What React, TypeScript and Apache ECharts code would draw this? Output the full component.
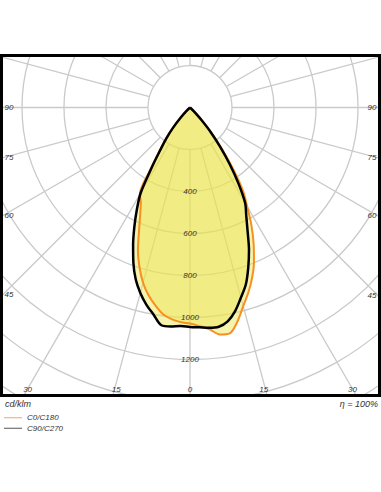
import React, { useEffect, useRef } from 'react';
import * as echarts from 'echarts';

// gamma angles (deg from nadir) shared by all half-planes
const GAMMA = [0, 2.5, 5, 7.5, 10, 12.5, 15, 17.5, 20, 22.5, 25, 27.5, 30, 32.5, 35, 37.5, 40, 42.5, 45, 47.5];
// intensities in cd/klm
const C0 = [1029, 1042, 1060, 1090, 1092, 1044, 979, 924, 864, 796, 717, 634, 544, 470, 360, 255, 165, 80, 25, 0];
const C180 = [1029, 1023, 1012, 992, 956, 915, 864, 799, 725, 634, 561, 507, 478, 355, 255, 190, 128, 66, 25, 0];
const C90 = [1045, 1048, 1053, 1053, 1034, 993, 937, 884, 811, 734, 649, 580, 525, 430, 330, 235, 155, 78, 25, 0];
const C270 = [1045, 1042, 1047, 1046, 1001, 961, 914, 859, 788, 708, 627, 548, 470, 340, 245, 185, 125, 65, 25, 0];

const RADIAL_TICKS = [400, 600, 800, 1000, 1200];
const SIDE_TICKS = [90, 75, 60, 45];
const BOTTOM_TICKS = [30, 15, 0];
const SERIES_NAMES = ['C0/C180', 'C90/C270'];
const UNIT_TEXT = 'cd/klm';
const ETA_TEXT = 'η = 100%';

const W = 381;
const H = 492;
const CX = 190;
const CY = 107.5;
const R = 420;
const RMAX = 2000;
const FRAME = { x: 1.5, y: 55.5, w: 378, h: 340 };
const GRID = '#cacaca';
const FONT = 'Liberation Sans';
const TXT = '#333';
const FILL = '#ece54e';

function halfPlanes(left: number[], right: number[]) {
  const pts: number[][] = [];
  for (let i = GAMMA.length - 1; i >= 0; i--) pts.push([left[i], GAMMA[i]]);
  for (let i = 0; i < GAMMA.length; i++) pts.push([right[i], 360 - GAMMA[i]]);
  return pts;
}

export default function App() {
  const ref = useRef<HTMLDivElement>(null);
  useEffect(() => {
    document.body.style.margin = '0';
    const chart = echarts.init(ref.current!, null, { renderer: 'svg' });
    const orange = halfPlanes(C180, C0);
    const black = halfPlanes(C270, C90);

    const fLeft = FRAME.x + 2;
    const fRight = FRAME.x + FRAME.w - 2;
    const fBottom = FRAME.y + FRAME.h - 1.5;
    const small = { fontSize: 8, fontStyle: 'italic', fontFamily: FONT, fill: TXT };

    const texts: any[] = [];
    SIDE_TICKS.forEach((g) => {
      const t = Math.tan((g * Math.PI) / 180);
      const yl = g === 90 ? CY : CY + (CX - fLeft) / t;
      const yr = g === 90 ? CY : CY + (fRight - CX) / t;
      texts.push({ type: 'text', z: 60, style: { ...small, text: String(g), x: fLeft + 1, y: yl, align: 'left', verticalAlign: 'middle' } });
      texts.push({ type: 'text', z: 60, style: { ...small, text: String(g), x: fRight - 1, y: yr, align: 'right', verticalAlign: 'middle' } });
    });
    BOTTOM_TICKS.forEach((g) => {
      const d = (fBottom - CY) * Math.tan((g * Math.PI) / 180);
      const xs = g === 0 ? [CX] : [CX - d + 3, CX + d - 3];
      xs.forEach((x) => texts.push({ type: 'text', z: 60, style: { ...small, text: String(g), x, y: fBottom - 5, align: 'center', verticalAlign: 'middle' } }));
    });

    const hiddenAxis = { axisLine: { show: false }, axisTick: { show: false }, axisLabel: { show: false } };
    const lineCommon = { type: 'line', coordinateSystem: 'polar', polarIndex: 1, showSymbol: false, symbol: 'none', smooth: 0.3 };

    const option: any = {
      animation: false,
      polar: [
        { center: [CX, CY], radius: [(R * 200) / RMAX, R] },
        { center: [CX, CY], radius: [0, R] },
        { center: [CX, CY], radius: [0, R] },
      ],
      angleAxis: [0, 1, 2].map((i) => ({
        polarIndex: i, type: 'value', min: 0, max: 360, interval: 15, startAngle: 270, clockwise: true,
        ...hiddenAxis,
        splitLine: { show: i === 0, lineStyle: { color: GRID, width: 1.3 } },
      })),
      radiusAxis: [
        { polarIndex: 0, type: 'value', min: 0, max: RMAX, ...hiddenAxis, splitLine: { show: false } },
        { polarIndex: 1, type: 'value', min: 0, max: RMAX, interval: 200, ...hiddenAxis, splitLine: { show: true, lineStyle: { color: GRID, width: 1.3 } } },
        {
          polarIndex: 2, type: 'value', min: 0, max: RMAX, interval: 200, z: 10,
          axisLine: { show: false }, axisTick: { show: false }, splitLine: { show: false },
          axisLabel: {
            show: true, interval: 0, margin: 0, align: 'center', verticalAlign: 'middle',
            fontSize: 8, fontStyle: 'italic', fontFamily: FONT, color: TXT,
            formatter: (v: number) => (RADIAL_TICKS.includes(v) ? String(v) : ''),
          },
        },
      ],
      legend: {
        z: 70, orient: 'vertical', left: 4, top: 413, padding: 0, itemWidth: 18, itemHeight: 1, itemGap: 1, icon: 'rect',
        data: [
          { name: SERIES_NAMES[0], itemStyle: { color: '#f7a55a' } },
          { name: SERIES_NAMES[1], itemStyle: { color: '#555555' } },
        ],
        textStyle: { fontSize: 8, fontStyle: 'italic', fontFamily: FONT, color: TXT, lineHeight: 9.5 },
      },
      series: [
        { ...lineCommon, name: 'fill0', data: orange, silent: true, z: 2, lineStyle: { width: 0 }, areaStyle: { color: FILL, opacity: 0.45 } },
        { ...lineCommon, name: 'fill1', data: black, silent: true, z: 2, lineStyle: { width: 0 }, areaStyle: { color: FILL, opacity: 0.45 } },
        { ...lineCommon, name: SERIES_NAMES[0], data: orange, z: 3, color: '#f7901e', lineStyle: { color: '#f7901e', width: 2 } },
        { ...lineCommon, name: SERIES_NAMES[1], data: black, z: 4, color: '#000', lineStyle: { color: '#000', width: 2.5 } },
      ],
      graphic: [
        { type: 'rect', z: 50, silent: true, shape: { x: 0, y: 0, width: W, height: FRAME.y }, style: { fill: '#fff' } },
        { type: 'rect', z: 50, silent: true, shape: { x: 0, y: FRAME.y + FRAME.h, width: W, height: H - FRAME.y - FRAME.h }, style: { fill: '#fff' } },
        { type: 'rect', z: 60, silent: true, shape: { x: FRAME.x, y: FRAME.y, width: FRAME.w, height: FRAME.h }, style: { fill: 'none', stroke: '#000', lineWidth: 3 } },
        ...texts,
        { type: 'text', z: 60, style: { fontSize: 9, fontStyle: 'italic', fontFamily: FONT, fill: TXT, text: UNIT_TEXT, x: 5, y: 404, align: 'left', verticalAlign: 'middle' } },
        { type: 'text', z: 60, style: { fontSize: 9, fontStyle: 'italic', fontFamily: FONT, fill: TXT, text: ETA_TEXT, x: 378, y: 404, align: 'right', verticalAlign: 'middle' } },
      ],
    };
    chart.setOption(option);
    return () => chart.dispose();
  }, []);
  return <div ref={ref} style={{ width: W, height: H }} />;
}
